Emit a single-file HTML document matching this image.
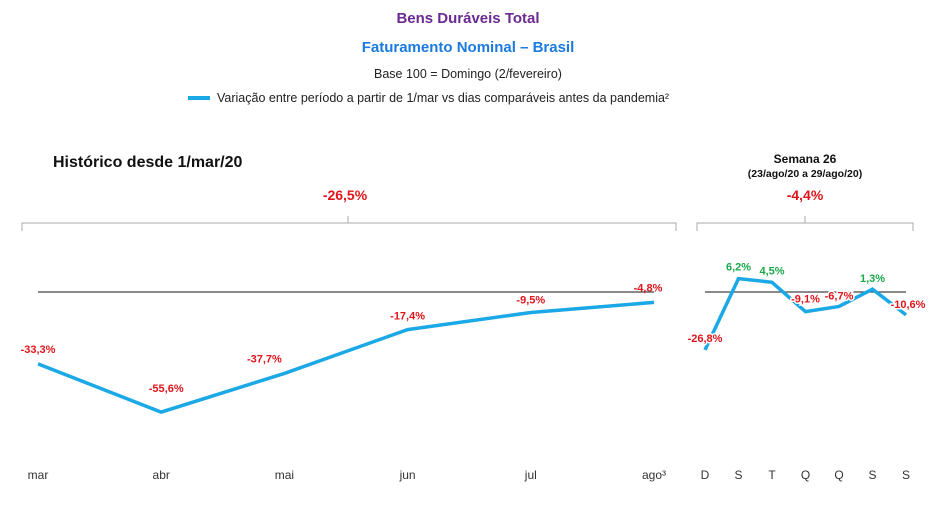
<!DOCTYPE html>
<html><head><meta charset="utf-8"><style>
html,body{margin:0;padding:0;background:#fff;}
svg{display:block;font-family:"Liberation Sans",sans-serif;}
</style></head><body>
<svg id="c" width="945" height="508" viewBox="0 0 945 508">
<text x="468" y="23" text-anchor="middle" font-size="15" font-weight="bold" fill="#6b2a91">Bens Duráveis Total</text>
<text x="468" y="52" text-anchor="middle" font-size="15" font-weight="bold" fill="#1a7ae0">Faturamento Nominal – Brasil</text>
<text x="468" y="78" text-anchor="middle" font-size="12.5" fill="#222">Base 100 = Domingo (2/fevereiro)</text>
<g>
<rect x="188" y="96" width="22" height="4" fill="#1ba8e6"/>
<text x="217" y="102" font-size="12.5" fill="#222">Variação entre período a partir de 1/mar vs dias comparáveis antes da pandemia²</text>
</g>
<text x="53" y="167" font-size="16" font-weight="bold" fill="#111">Histórico desde 1/mar/20</text>
<text x="345" y="200" text-anchor="middle" font-size="14" font-weight="bold" fill="#e0151b">-26,5%</text>
<path d="M22,231 V223 H676 V231 M348,223 V216" fill="none" stroke="#aaa" stroke-width="1"/>
<text x="805" y="163" text-anchor="middle" font-size="12" font-weight="bold" fill="#111">Semana 26</text>
<text x="805" y="177" text-anchor="middle" font-size="10.5" font-weight="bold" fill="#111">(23/ago/20 a 29/ago/20)</text>
<text x="805" y="200" text-anchor="middle" font-size="14" font-weight="bold" fill="#e0151b">-4,4%</text>
<path d="M697,231 V223 H913 V231 M805,223 V216" fill="none" stroke="#aaa" stroke-width="1"/>
<line x1="38" y1="292" x2="654" y2="292" stroke="#444" stroke-width="1.2"/>
<line x1="705" y1="292" x2="906" y2="292" stroke="#444" stroke-width="1.2"/>
<g id="g"></g>
</svg>
<script>
const months = ["mar","abr","mai","jun","jul","ago³"];
const monthValues = [-33.3,-55.6,-37.7,-17.4,-9.5,-4.8];
const days = ["D","S","T","Q","Q","S","S"];
const dayValues = [-26.8,6.2,4.5,-9.1,-6.7,1.3,-10.6];

const NS="http://www.w3.org/2000/svg";
const g=document.getElementById('g');
const y=v=>292-v*2.16;
const xm=i=>38+i*123.2;
const xd=i=>705+i*33.5;
const fmt=v=>(v>0?"":"")+v.toFixed(1).replace('.',',')+"%";
function mk(t,a){const e=document.createElementNS(NS,t);for(const k in a)e.setAttribute(k,a[k]);g.appendChild(e);return e;}

let p=mk('polyline',{points:monthValues.map((v,i)=>xm(i)+','+y(v)).join(' '),fill:'none',stroke:'#1ba8e6','stroke-width':3.5});


let q=mk('polyline',{points:dayValues.map((v,i)=>xd(i)+','+y(v)).join(' '),fill:'none',stroke:'#1ba8e6','stroke-width':3.5});



const mOff=[[0,-11],[5,-20],[-20,-11],[0,-10],[0,-9],[-6,-11]];
monthValues.forEach((v,i)=>{
  const t=mk('text',{x:xm(i)+mOff[i][0],y:y(v)+mOff[i][1],'text-anchor':'middle','font-size':11,'font-weight':'bold',fill:'#e0151b'});
  t.textContent=fmt(v);
  
  
  const l=mk('text',{x:xm(i),y:479,'text-anchor':'middle','font-size':12,fill:'#333'});
  l.textContent=months[i];
  
  
});
const dOff=[[0,-8],[0,-8],[0,-8],[0,-9],[0,-7],[0,-7],[2,-7]];
dayValues.forEach((v,i)=>{
  const t=mk('text',{x:xd(i)+dOff[i][0],y:y(v)+dOff[i][1],'text-anchor':'middle','font-size':11,'font-weight':'bold',fill:v>=0?'#1aa84a':'#e0151b',stroke:'#fff','stroke-width':3,'paint-order':'stroke'});
  t.textContent=fmt(v);
  
  
  const l=mk('text',{x:xd(i),y:479,'text-anchor':'middle','font-size':12,fill:'#333'});
  l.textContent=days[i];
  
  
});
</script>
</body></html>
